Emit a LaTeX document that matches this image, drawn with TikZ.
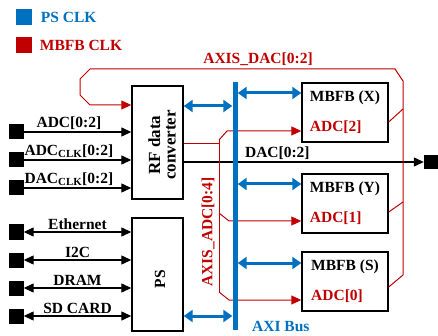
\documentclass[tikz,border=0pt]{standalone}
\usepackage{fontspec}
\setmainfont{Liberation Serif}
\usetikzlibrary{arrows.meta, positioning}
\definecolor{psblue}{RGB}{0,112,192}
\definecolor{mbfbred}{RGB}{192,0,0}

\tikzset{
  blk/.style={draw, line width=1.4pt, inner sep=0pt},
  mbfb/.style={blk, minimum width=86pt, minimum height=59pt, align=left},
  pin/.style={fill=black, minimum size=15pt, inner sep=0pt},
  sig/.style={line width=1.3pt, -{Triangle[length=10pt,width=9pt]}},
  bisig/.style={line width=1.3pt, {Triangle[length=10pt,width=9pt]}-{Triangle[length=10pt,width=9pt]}},
  axi/.style={psblue, line width=3pt, {Triangle[length=9pt,width=12pt]}-{Triangle[length=9pt,width=12pt]}},
  clk/.style={mbfbred, line width=1pt},
  clkarr/.style={clk, -{Triangle[length=10pt,width=9pt]}},
}

\begin{document}
\begin{tikzpicture}[x=1pt, y=-1pt, font=\fontsize{15.5}{18}\selectfont\bfseries]
    \useasboundingbox (0,0) rectangle (438,336);

    % legend
    \node[pin, minimum size=16pt, fill=psblue] (legps) at (23.5,17) {};
    \node[right=9pt of legps, text=psblue, inner sep=0pt] (legpstxt) {PS CLK};
    \node[pin, minimum size=16pt, fill=mbfbred] (legmb) at (23.5,45.5) {};
    \node[right=8pt of legmb, text=mbfbred, inner sep=0pt] (legmbtxt) {MBFB CLK};

    % blocks
    \node[blk, minimum width=51pt, minimum height=113pt] (rf) at (157.5,142.5) {};
    \node[rotate=90, align=center, font=\fontsize{17}{15.5}\selectfont\bfseries] (rftxt) at (162,145) {RF data\\converter};
    \node[blk, minimum width=51pt, minimum height=113pt] (ps) at (157.5,274.5) {};
    \node[rotate=90] (pstxt) at (160,279) {PS};

    \node[mbfb] (mx) at (345,112.5) {MBFB (X)\\[12pt]\textcolor{mbfbred}{ADC[2]}};
    \node[mbfb] (my) at (345,203.5) {MBFB (Y)\\[12pt]\textcolor{mbfbred}{ADC[1]}};
    \node[mbfb] (ms) at (345,281.5) {MBFB (S)\\[12pt]\textcolor{mbfbred}{ADC[0]}};

    % converter inputs
    \foreach \y/\nm/\txt in {132/adc/{ADC[0:2]}, 160/adcclk/{ADC\textsubscript{CLK}[0:2]}, 188/dacclk/{DAC\textsubscript{CLK}[0:2]}} {
        \node[pin] (\nm) at (16,\y) {};
        \draw[sig] (\nm.east) -- (\nm -| rf.west) node[pos=0.42, above, inner sep=2pt] {\txt};
    }

    % PS interfaces
    \foreach \y/\nm/\txt in {232/eth/Ethernet, 260/iic/I2C, 288/dram/DRAM, 316/sd/{SD CARD}} {
        \node[pin] (\nm) at (16,\y) {};
        \draw[bisig] (\nm.east) -- (\nm -| ps.west) node[midway, above, inner sep=2pt] {\txt};
    }

    % DAC output
    \node[pin, minimum size=14pt] (dacout) at (431,162) {};
    \draw[sig] (rf.east |- dacout) -- (dacout.west) node[pos=0.39, above, inner sep=2pt] {DAC[0:2]};

    % AXIS_ADC
    \coordinate (adctop) at (219,140);
    \coordinate (adcbot) at (219,292);
    \draw[clk] (rf.east |- 0,144) -- (adctop |- 0,144);
    \draw[clk] (adctop) -- (adcbot);
    \draw[clkarr] (adctop) -- (227,131) -- (mx.west |- 0,131);
    \draw[clkarr] (adctop |- 0,213) -- (229,221) -- (my.west |- 0,221);
    \draw[clkarr] (adcbot) -- (229,300) -- (ms.west |- 0,300);
    \node[rotate=90, text=mbfbred] (adclbl) at (208,232) {AXIS\_ADC[0:4]};

    % AXIS_DAC loop
    \coordinate (dacr) at (403,81);
    \draw[clkarr] (ms.east |- 0,287) -- (403,275) -- (dacr) -- (395,69) -- (90,69)
        -- (80,79) -- (80,95) -- (90,105) -- (rf.west |- 0,105);
    \draw[clk] (mx.east |- 0,122) -- (403,109);
    \draw[clk] (my.east |- 0,212) -- (403,202);
    \node[text=mbfbred] (daclbl) at (258,59) {AXIS\_DAC[0:2]};

    % AXI bus
    \node[fill=psblue, minimum width=5pt, minimum height=248pt, inner sep=0pt] (bus) at (235,206) {};
    \node[anchor=west, text=psblue, inner sep=0pt] (bustxt) at (252,326) {AXI Bus};
    \draw[axi] (rf.east |- 0,106) -- (bus.west |- 0,106);
    \draw[axi] (ps.east |- 0,316) -- (bus.west |- 0,316);
    \foreach \b/\y in {mx/93, my/184, ms/263}
        \draw[axi] (bus.east |- 0,\y) -- (\b.west |- 0,\y);
\end{tikzpicture}
\end{document}
